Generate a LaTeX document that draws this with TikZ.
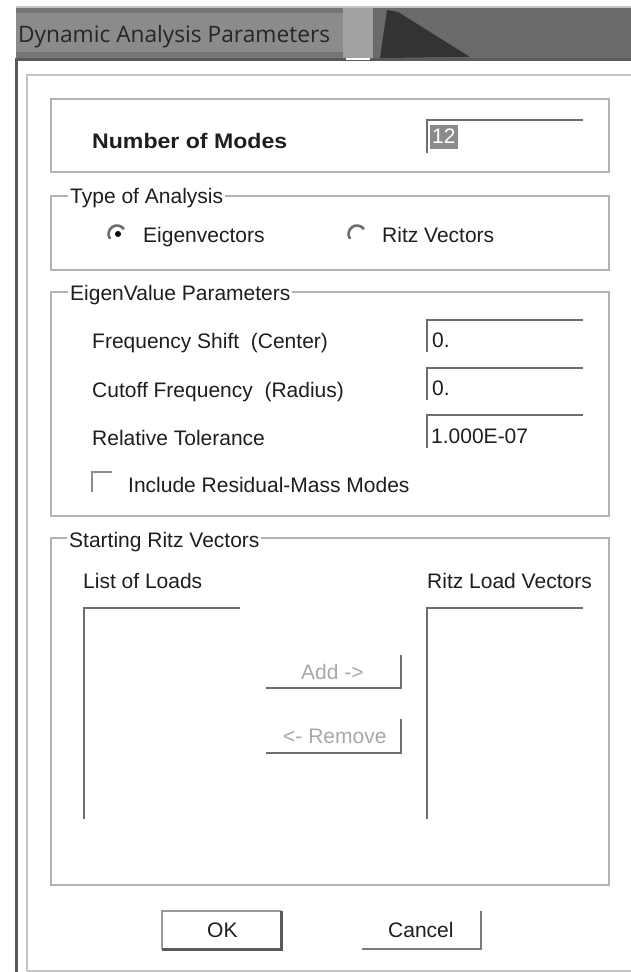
\documentclass[tikz,border=0pt]{standalone}
\usepackage{fontspec}
\setmainfont{Liberation Sans}
\newfontfamily\titlefont{Open Sans}
\definecolor{tbleft}{HTML}{8B8B8B}
\definecolor{tbstreak}{HTML}{767676}
\definecolor{tbmid}{HTML}{A2A2A2}
\definecolor{tbright}{HTML}{6B6B6B}
\definecolor{tbdark}{HTML}{333333}
\definecolor{grpc}{HTML}{B2B2B2}
\definecolor{edgec}{HTML}{6E6E6E}
\definecolor{framec}{HTML}{C4C4C4}
\definecolor{borderc}{HTML}{5A5A5A}
\definecolor{txtc}{HTML}{1E1E1E}
\definecolor{disc}{HTML}{A8A8A8}
\begin{document}
\begin{tikzpicture}[x=1pt,y=-1pt,
  ui/.style={font=\fontsize{21pt}{24pt}\selectfont, inner sep=0pt, anchor=base west, text=txtc},
  glabel/.style={ui, fill=white, inner xsep=2pt, inner ysep=2pt},
  grp/.style={draw=grpc, line width=2pt},
  sunk/.style={draw=edgec, line width=2.6pt},
  distext/.style={ui, text=disc},
  radioarc/.style={draw=edgec, line width=2.6pt},
]
\useasboundingbox (0,0) rectangle (631,972);
\fill[white] (0,0) rectangle (631,972);
% title bar
\fill[tbleft] (16,8) rectangle (343,58);
\fill[tbstreak] (16,8) rectangle (343,13);
\fill[tbstreak] (16,52) rectangle (343,58);
\fill[tbmid] (343,8) rectangle (373,58);
\fill[tbright] (373,8) rectangle (631,58);
\fill[tbdark] (380,58) -- (387,10) -- (398,12) -- (470,57) -- cycle;
\draw[framec, line width=1.5pt] (16,7) -- (631,7);
\fill[borderc] (16,58) rectangle (631,61);
\fill[white] (346,58) rectangle (370,60);
\node[font=\titlefont\fontsize{22.7pt}{26pt}\selectfont, inner sep=0pt, anchor=base west, text=black!85] (title) at (18,42) {Dynamic Analysis Parameters};
% window frame
\fill[borderc] (15,58) rectangle (18,972);
\draw[framec, line width=2pt] (27,971) -- (27,75) -- (632,75);
\draw[framec, line width=2pt] (27,971) -- (632,971);
% number of modes
\draw[grp] (51,99) rectangle (609,172);
\node[ui, font=\bfseries\fontsize{21pt}{24pt}\selectfont] (nmodes) at (92,148) {\scalebox{1.1}[1]{Number of Modes}};
\draw[sunk] (427,153) -- (427,120) -- (583,120);
\fill[tbleft] (430,125) rectangle (458,149);
\node[ui, text=white] (nmval) at (432,143) {12};
% type of analysis
\draw[grp] (51,196) rectangle (609,270);
\node[glabel] (typelbl) at (68,203) {Type of Analysis};
\draw[radioarc] (117,234) ++(-35:8.5) arc[start angle=-35, end angle=-215, radius=8.5];
\fill[black] (118,234) circle (3);
\node[ui] (eigen) at (143,242) {Eigenvectors};
\draw[radioarc] (357,234) ++(-35:8.5) arc[start angle=-35, end angle=-215, radius=8.5];
\node[ui] (ritz) at (382,242) {Ritz Vectors};
% eigenvalue parameters
\draw[grp] (51,292) rectangle (609,516);
\node[glabel] (evlbl) at (68,300) {EigenValue Parameters};
\node[ui] (fshift) at (92,348) {Frequency Shift\ \ (Center)};
\node[ui] (cutoff) at (92,397) {Cutoff Frequency\ \ (Radius)};
\node[ui] (reltol) at (92,445) {Relative Tolerance};
\draw[sunk] (427,352) -- (427,320) -- (583,320);
\draw[sunk] (427,400) -- (427,368) -- (583,368);
\draw[sunk] (427,448) -- (427,415) -- (583,415);
\node[ui] (fsval) at (432,347) {0.};
\node[ui] (coval) at (432,395) {0.};
\node[ui] (rtval) at (431,443) {1.000E-07};
\draw[edgec!80, line width=2.5pt] (92,492) -- (92,472) -- (112,472);
\node[ui] (resid) at (128,492) {Include Residual-Mass Modes};
% starting ritz vectors
\draw[grp] (51,538) rectangle (609,885);
\node[glabel] (srlbl) at (67,547) {Starting Ritz Vectors};
\node[ui] (loads) at (83,588) {List of Loads};
\node[ui] (rlv) at (427,588) {Ritz Load Vectors};
\draw[sunk] (84,819) -- (84,608) -- (240,608);
\draw[sunk] (427,819) -- (427,608) -- (583,608);
\draw[sunk] (266,688) -- (401,688) -- (401,655);
\node[distext] (add) at (301,679) {Add ->};
\draw[sunk] (266,753) -- (401,753) -- (401,719);
\node[distext] (remove) at (283,743) {<- Remove};
% OK / Cancel
\draw[edgec!70, line width=2pt] (162,949) -- (162,911) -- (281,911);
\draw[borderc, line width=3pt] (162,949) -- (281,949) -- (281,911);
\node[ui] (ok) at (207,937) {OK};
\draw[edgec!90, line width=2.6pt] (362,949) -- (481,949) -- (481,911);
\node[ui] (cancel) at (388,937) {Cancel};
\end{tikzpicture}
\end{document}
